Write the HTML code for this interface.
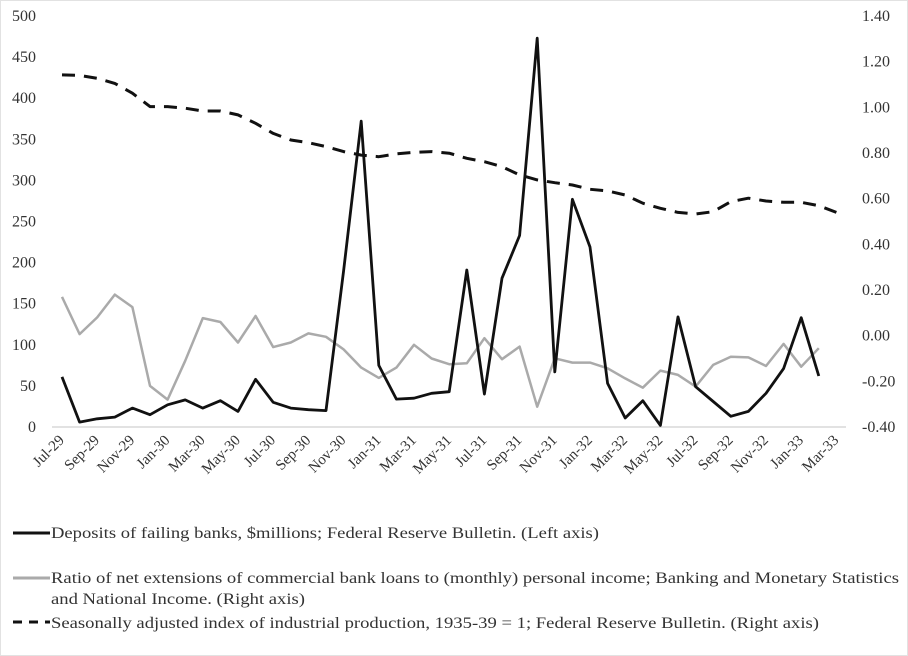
<!DOCTYPE html>
<html><head><meta charset="utf-8"><style>
html,body{margin:0;padding:0;background:#fff}
svg{display:block}
text{font-family:"Liberation Serif",serif;fill:#333}
</style></head><body>
<svg id="chart" width="908" height="656" viewBox="0 0 908 656" xmlns="http://www.w3.org/2000/svg">
<rect x="0.5" y="0.5" width="907" height="655" fill="#fff" stroke="#e2e2e2"/>
<g id="plot"></g>
<g id="legend">
  <g>
    <line x1="13" y1="533" x2="50" y2="533" stroke="#111" stroke-width="3"/>
    <text x="51" y="538" font-size="16" textLength="548" lengthAdjust="spacingAndGlyphs">Deposits of failing banks, $millions; Federal Reserve Bulletin. (Left axis)</text>
  </g>
  <g>
    <line x1="13" y1="578" x2="50" y2="578" stroke="#aaa" stroke-width="3"/>
    <text x="51" y="583" font-size="16" textLength="848" lengthAdjust="spacingAndGlyphs">Ratio of net extensions of commercial bank loans to (monthly) personal income; Banking and Monetary Statistics</text>
    <text x="51" y="604" font-size="16" textLength="254" lengthAdjust="spacingAndGlyphs">and National Income. (Right axis)</text>
  </g>
  <g>
    <line x1="13" y1="622" x2="50" y2="622" stroke="#111" stroke-width="3" stroke-dasharray="9,7"/>
    <text x="51" y="628" font-size="16" textLength="768" lengthAdjust="spacingAndGlyphs">Seasonally adjusted index of industrial production, 1935-39 = 1; Federal Reserve Bulletin. (Right axis)</text>
  </g>
</g>
</svg>
<script>
const months = ["Jul-29","Aug-29","Sep-29","Oct-29","Nov-29","Dec-29","Jan-30","Feb-30","Mar-30","Apr-30","May-30","Jun-30","Jul-30","Aug-30","Sep-30","Oct-30","Nov-30","Dec-30","Jan-31","Feb-31","Mar-31","Apr-31","May-31","Jun-31","Jul-31","Aug-31","Sep-31","Oct-31","Nov-31","Dec-31","Jan-32","Feb-32","Mar-32","Apr-32","May-32","Jun-32","Jul-32","Aug-32","Sep-32","Oct-32","Nov-32","Dec-32","Jan-33","Feb-33","Mar-33"];
const deposits = [61,6,10,12,23,15,27,33,23,32,19,58,30,23,21,20,190,372,75,34,35,41,43,191,40,181,233,473,67,277,219,53,11,32,2,134,49,31,13,19,41,71,133,62];
const loanRatio = [0.17,0.007,0.08,0.18,0.125,-0.22,-0.28,-0.11,0.077,0.06,-0.03,0.086,-0.05,-0.03,0.01,-0.005,-0.06,-0.14,-0.185,-0.14,-0.04,-0.10,-0.125,-0.121,-0.011,-0.103,-0.048,-0.311,-0.099,-0.118,-0.118,-0.143,-0.187,-0.228,-0.153,-0.172,-0.223,-0.128,-0.092,-0.095,-0.133,-0.036,-0.136,-0.055];
const production = [1.142,1.14,1.127,1.105,1.062,1.003,1.003,0.996,0.984,0.984,0.967,0.93,0.886,0.857,0.845,0.828,0.806,0.791,0.784,0.796,0.803,0.806,0.799,0.777,0.762,0.74,0.704,0.682,0.67,0.66,0.641,0.634,0.616,0.58,0.558,0.54,0.533,0.543,0.587,0.602,0.59,0.584,0.584,0.569,0.54];
const leftTicks = [0,50,100,150,200,250,300,350,400,450,500];
const rightTicks = [-0.40,-0.20,0.00,0.20,0.40,0.60,0.80,1.00,1.20,1.40];

const NS="http://www.w3.org/2000/svg";
const plot=document.getElementById('plot');
const X0=62, DX=17.6, YB=427, YT=16;
const xs=i=>X0+DX*i;
const yL=v=>YB-(v-0)/(500-0)*(YB-YT);
const yR=v=>YB-(v+0.4)/(1.8)*(YB-YT);
function mk(tag,attrs){const e=document.createElementNS(NS,tag);for(const k in attrs)e.setAttribute(k,attrs[k]);return e;}

const base=mk('line',{x1:52,y1:YB,x2:846,y2:YB,stroke:'#d9d9d9','stroke-width':1.5});


plot.appendChild(base);

leftTicks.forEach(v=>{
  const t=mk('text',{x:36,y:yL(v)+5,'font-size':16,'text-anchor':'end'});
  t.textContent=String(v);
  
  
  plot.appendChild(t);
});
rightTicks.forEach(v=>{
  const t=mk('text',{x:862,y:yR(v)+5,'font-size':16,'text-anchor':'start'});
  t.textContent=v.toFixed(2);
  
  
  plot.appendChild(t);
});
months.forEach((m,i)=>{
  if(i%2!==0)return;
  const x=xs(i)+3, y=441;
  const t=mk('text',{x:x,y:y,'font-size':15,'text-anchor':'end',transform:`rotate(-45 ${x} ${y})`});
  t.textContent=m;
  
  
  plot.appendChild(t);
});
function series(vals,yf,attrs,name){
  const d=vals.map((v,i)=>(i?'L':'M')+xs(i).toFixed(1)+','+yf(v).toFixed(1)).join(' ');
  const p=mk('path',Object.assign({d:d,fill:'none','stroke-linejoin':'round'},attrs));
  
  
  plot.appendChild(p);
}
series(loanRatio,yR,{stroke:'#aaa','stroke-width':2.5},'loan-ratio-line');
series(production,yR,{stroke:'#111','stroke-width':3,'stroke-dasharray':'13,9'},'industrial-production-line');
series(deposits,yL,{stroke:'#111','stroke-width':2.8},'failing-bank-deposits-line');
</script>
</body></html>
